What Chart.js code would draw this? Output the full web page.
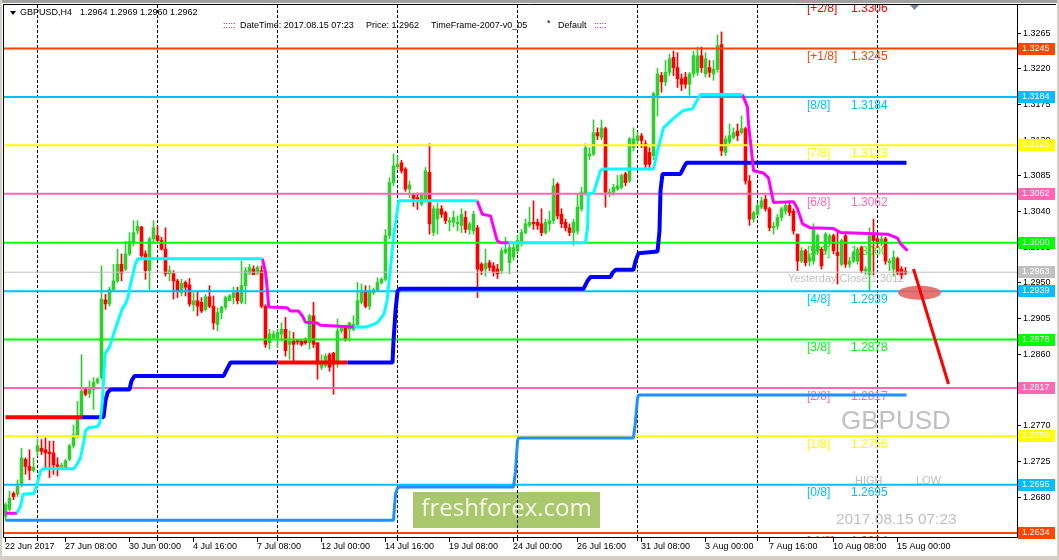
<!DOCTYPE html>
<html>
<head>
<meta charset="utf-8">
<title>GBPUSD,H4</title>
<script src="https://cdn.jsdelivr.net/npm/chart.js@4.4.1/dist/chart.umd.min.js"></script>
<style>
  html, body { margin: 0; padding: 0; background: #fff; overflow: hidden; }
  canvas { display: block; }
</style>
</head>
<body>
<canvas id="chart" width="1059" height="560"></canvas>
<script>
// ---- candles (H4, first bar 22 Jun 2017 20:00, last bar 15 Aug 08:00) ----
const opens = [
  1.2655,1.2664,1.2684,1.2683,1.2695,1.2727,1.2718,1.2713,1.2737,1.2741,
  1.2739,1.2736,1.2735,1.2720,1.2718,1.2716,1.2727,1.2744,1.2756,1.2779,
  1.2815,1.2810,1.2815,1.2824,1.2830,1.2928,1.2923,1.2941,1.2952,1.2973,
  1.2967,1.2986,1.3000,1.3015,1.3020,1.2986,1.2965,1.3005,1.3009,1.3003,
  1.2992,1.2961,1.2961,1.2952,1.2937,1.2950,1.2947,1.2922,1.2927,1.2925,
  1.2916,1.2932,1.2920,1.2897,1.2912,1.2919,1.2927,1.2931,1.2937,1.2925,
  1.2946,1.2962,1.2967,1.2962,1.2965,1.2920,1.2874,1.2880,1.2880,1.2885,
  1.2891,1.2872,1.2876,1.2877,1.2876,1.2878,1.2874,1.2908,1.2874,1.2843,
  1.2845,1.2859,1.2861,1.2849,1.2889,1.2893,1.2891,1.2891,1.2897,1.2925,
  1.2939,1.2920,1.2937,1.2941,1.2950,1.2954,1.3009,1.3076,1.3096,1.3101,
  1.3093,1.3068,1.3060,1.3057,1.3049,1.3053,1.3089,1.3013,1.3030,1.3043,
  1.3038,1.3026,1.3026,1.3024,1.3022,1.3032,1.3017,1.3015,1.3019,1.2973,
  1.2967,1.2975,1.2971,1.2967,1.2965,1.2988,1.2975,1.2982,1.2990,1.3000,
  1.3013,1.3022,1.3026,1.3026,1.3024,1.3013,1.3024,1.3028,1.3074,1.3036,
  1.3026,1.3019,1.3013,1.3015,1.3043,1.3062,1.3110,1.3112,1.3139,1.3133,
  1.3144,1.3062,1.3064,1.3068,1.3070,1.3087,1.3078,1.3120,1.3129,1.3135,
  1.3125,1.3114,1.3110,1.3186,1.3211,1.3203,1.3215,1.3234,1.3221,1.3207,
  1.3209,1.3200,1.3213,1.3215,1.3236,1.3213,1.3221,1.3213,1.3219,1.3250,
  1.3114,1.3127,1.3133,1.3141,1.3139,1.3144,1.3078,1.3030,1.3036,1.3045,
  1.3055,1.3043,1.3019,1.3021,1.3032,1.3040,1.3047,1.3040,1.3011,1.2977,
  1.2990,1.2977,1.2977,1.2990,1.2992,1.2990,1.2999,1.3009,1.2988,1.2973,
  1.3009,1.2973,1.2977,1.2977,1.2994,1.2965,1.2960,1.3011,1.3005,1.2999,
  1.3005,1.2975,1.2967,1.2980,1.2967,1.2964
];
const highs = [
  1.2672,1.2687,1.2686,1.2701,1.2741,1.2729,1.2739,1.2729,1.2752,1.2752,
  1.2754,1.2750,1.2750,1.2729,1.2722,1.2727,1.2746,1.2770,1.2800,1.2859,
  1.2817,1.2826,1.2830,1.2830,1.2971,1.2935,1.2944,1.2973,1.2992,1.2986,
  1.3002,1.3013,1.3028,1.3028,1.3021,1.2990,1.3007,1.3028,1.3021,1.3007,
  1.3019,1.2971,1.2965,1.2954,1.2954,1.2952,1.2955,1.2937,1.2939,1.2931,
  1.2935,1.2946,1.2933,1.2918,1.2920,1.2933,1.2935,1.2944,1.2944,1.2977,
  1.2969,1.2973,1.2971,1.2971,1.2971,1.2922,1.2891,1.2889,1.2891,1.2899,
  1.2906,1.2889,1.2887,1.2878,1.2878,1.2880,1.2910,1.2925,1.2874,1.2859,
  1.2860,1.2861,1.2862,1.2904,1.2895,1.2895,1.2900,1.2908,1.2950,1.2948,
  1.2946,1.2946,1.2943,1.2956,1.2956,1.3017,1.3082,1.3112,1.3110,1.3104,
  1.3095,1.3078,1.3062,1.3063,1.3063,1.3095,1.3125,1.3047,1.3050,1.3047,
  1.3040,1.3032,1.3040,1.3034,1.3043,1.3040,1.3026,1.3040,1.3022,1.2975,
  1.2992,1.2978,1.2975,1.2973,1.2994,1.3007,1.2998,1.3000,1.3009,1.3017,
  1.3030,1.3045,1.3053,1.3030,1.3043,1.3030,1.3040,1.3081,1.3076,1.3043,
  1.3030,1.3024,1.3030,1.3062,1.3070,1.3125,1.3120,1.3155,1.3145,1.3155,
  1.3146,1.3068,1.3074,1.3085,1.3087,1.3089,1.3133,1.3145,1.3140,1.3138,
  1.3129,1.3120,1.3190,1.3220,1.3215,1.3230,1.3238,1.3242,1.3240,1.3213,
  1.3215,1.3215,1.3242,1.3247,1.3247,1.3240,1.3230,1.3230,1.3262,1.3266,
  1.3135,1.3150,1.3145,1.3150,1.3160,1.3146,1.3085,1.3040,1.3050,1.3058,
  1.3060,1.3045,1.3026,1.3036,1.3045,1.3052,1.3053,1.3043,1.3011,1.2994,
  1.2992,1.2986,1.3024,1.3011,1.2994,1.3013,1.3011,1.3011,1.3015,1.3005,
  1.3011,1.2982,1.2990,1.2994,1.2996,1.2970,1.3019,1.3030,1.3007,1.3011,
  1.3007,1.2980,1.2990,1.2982,1.2970,1.2969
];
const lows = [
  1.2650,1.2662,1.2676,1.2680,1.2692,1.2708,1.2701,1.2711,1.2731,1.2733,
  1.2716,1.2704,1.2708,1.2706,1.2715,1.2714,1.2725,1.2741,1.2754,1.2777,
  1.2807,1.2805,1.2790,1.2822,1.2828,1.2916,1.2920,1.2939,1.2950,1.2952,
  1.2965,1.2984,1.2996,1.3011,1.2981,1.2954,1.2941,1.3000,1.3002,1.2991,
  1.2958,1.2952,1.2929,1.2931,1.2933,1.2933,1.2920,1.2914,1.2908,1.2912,
  1.2914,1.2918,1.2891,1.2889,1.2904,1.2916,1.2927,1.2923,1.2923,1.2923,
  1.2923,1.2960,1.2960,1.2960,1.2918,1.2868,1.2866,1.2878,1.2868,1.2876,
  1.2857,1.2853,1.2849,1.2872,1.2870,1.2872,1.2866,1.2868,1.2828,1.2840,
  1.2843,1.2838,1.2809,1.2843,1.2886,1.2876,1.2876,1.2889,1.2895,1.2923,
  1.2918,1.2916,1.2935,1.2939,1.2948,1.2952,1.3005,1.3072,1.3093,1.3088,
  1.3065,1.3057,1.3046,1.3042,1.3047,1.3051,1.3011,1.3009,1.3011,1.3032,
  1.3024,1.3015,1.3020,1.3015,1.3013,1.3013,1.3011,1.3011,1.2931,1.2960,
  1.2958,1.2965,1.2958,1.2955,1.2961,1.2986,1.2961,1.2978,1.2986,1.2996,
  1.3011,1.3020,1.3017,1.3017,1.3009,1.3011,1.3015,1.3024,1.3030,1.3019,
  1.3015,1.3009,1.2997,1.3011,1.3040,1.3060,1.3105,1.3110,1.3130,1.3130,
  1.3045,1.3058,1.3060,1.3066,1.3068,1.3072,1.3076,1.3116,1.3125,1.3120,
  1.3095,1.3095,1.3105,1.3160,1.3190,1.3198,1.3211,1.3211,1.3196,1.3192,
  1.3195,1.3186,1.3209,1.3211,1.3215,1.3209,1.3209,1.3205,1.3215,1.3110,
  1.3110,1.3125,1.3131,1.3129,1.3137,1.3074,1.3022,1.3026,1.3034,1.3043,
  1.3040,1.3015,1.3011,1.3017,1.3028,1.3036,1.3034,1.3011,1.2965,1.2975,
  1.2971,1.2971,1.2973,1.2986,1.2967,1.2986,1.2996,1.2986,1.2948,1.2971,
  1.2969,1.2969,1.2975,1.2973,1.2962,1.2960,1.2939,1.2960,1.2994,1.2996,
  1.2973,1.2965,1.2958,1.2960,1.2955,1.2960
];
const closes = [
  1.2670,1.2678,1.2680,1.2693,1.2729,1.2718,1.2713,1.2717,1.2744,1.2737,
  1.2735,1.2734,1.2720,1.2718,1.2719,1.2725,1.2744,1.2758,1.2779,1.2813,
  1.2809,1.2815,1.2824,1.2828,1.2929,1.2923,1.2941,1.2952,1.2973,1.2962,
  1.2986,1.3002,1.3013,1.3021,1.2984,1.2965,1.3005,1.3019,1.3003,1.2992,
  1.2961,1.2965,1.2952,1.2939,1.2949,1.2944,1.2923,1.2927,1.2920,1.2914,
  1.2932,1.2920,1.2899,1.2912,1.2919,1.2931,1.2933,1.2937,1.2927,1.2946,
  1.2965,1.2969,1.2960,1.2969,1.2920,1.2872,1.2885,1.2885,1.2887,1.2891,
  1.2864,1.2876,1.2872,1.2875,1.2872,1.2874,1.2908,1.2872,1.2847,1.2847,
  1.2857,1.2843,1.2847,1.2889,1.2893,1.2878,1.2899,1.2897,1.2927,1.2939,
  1.2920,1.2939,1.2941,1.2950,1.2954,1.3009,1.3076,1.3097,1.3099,1.3091,
  1.3068,1.3073,1.3056,1.3055,1.3061,1.3091,1.3024,1.3043,1.3043,1.3036,
  1.3028,1.3028,1.3032,1.3026,1.3036,1.3017,1.3024,1.3036,1.2967,1.2965,
  1.2974,1.2969,1.2963,1.2961,1.2990,1.2992,1.2994,1.2994,1.3003,1.3013,
  1.3024,1.3026,1.3024,1.3022,1.3013,1.3026,1.3028,1.3072,1.3034,1.3024,
  1.3019,1.3013,1.3026,1.3045,1.3064,1.3120,1.3112,1.3139,1.3135,1.3145,
  1.3064,1.3064,1.3070,1.3072,1.3085,1.3076,1.3131,1.3131,1.3135,1.3129,
  1.3099,1.3099,1.3188,1.3213,1.3203,1.3215,1.3232,1.3221,1.3207,1.3200,
  1.3200,1.3213,1.3236,1.3236,1.3221,1.3232,1.3215,1.3219,1.3249,1.3116,
  1.3131,1.3135,1.3139,1.3135,1.3144,1.3078,1.3030,1.3038,1.3047,1.3053,
  1.3043,1.3019,1.3021,1.3032,1.3043,1.3047,1.3038,1.3015,1.2977,1.2990,
  1.2975,1.2982,1.3019,1.3009,1.2971,1.3011,1.3009,1.2990,1.2984,1.3003,
  1.2973,1.2977,1.2988,1.2992,1.2965,1.2967,1.3009,1.3003,1.2999,1.3005,
  1.2977,1.2977,1.2982,1.2962,1.2960,1.2962
];

// ---- time axis ----
const timeLabels = ['22 Jun 2017','27 Jun 08:00','30 Jun 00:00','4 Jul 16:00','7 Jul 08:00',
  '12 Jul 00:00','14 Jul 16:00','19 Jul 08:00','24 Jul 00:00','26 Jul 16:00','31 Jul 08:00',
  '3 Aug 00:00','7 Aug 16:00','10 Aug 08:00','15 Aug 00:00'];
const timeLabelBars = [0,15,31,47,63,79,95,111,127,143,159,175,191,207,223];
const gridBars = [8,38,68,98,128,158,188,218];

// ---- price axis ----
const priceTicks = [1.3265,1.3220,1.3175,1.3130,1.3085,1.3040,1.2995,1.2950,1.2905,1.2860,1.2815,1.2770,1.2725,1.2680];

// ---- Murrey Math levels ----
const murreyNames  = ['[+2/8]','[+1/8]','[8/8]','[7/8]','[6/8]','[5/8]','[4/8]','[3/8]','[2/8]','[1/8]','[0/8]','[-1/8]'];
const murreyLevels = [1.3306,1.3245,1.3184,1.3123,1.3062,1.3000,1.2939,1.2878,1.2817,1.2756,1.2695,1.2634];
const bidPrice = 1.2963;
const yesterdayClose = 1.3012;

// ---- indicator lines: [bar, price] vertices ----
const trailUp = [
  [[2.9,1.2659],[3.75,1.2668],[4.4,1.2683],[7.1,1.2684],[7.75,1.2693],[8.75,1.2712],[9.4,1.2715],[17.1,1.2715],
   [17.9,1.2721],[18.75,1.2729],[19.6,1.2750],[20,1.2763],[20.8,1.2767],[22.9,1.2768],[23.6,1.2773],[23.9,1.2784],
   [24.25,1.2801],[24.6,1.2835],[24.9,1.2860],[26.1,1.2870],[26.7,1.2880],[27.5,1.2892],[28.3,1.2904],[29.2,1.2917],
   [30,1.2923],[30.6,1.2931],[31.25,1.2948],[31.9,1.2961],[32.5,1.2974],[33.1,1.2980],[64.2,1.2980]],
  [[87.1,1.2894],[90.4,1.2894],[92.9,1.2899],[94.6,1.2910],[95.4,1.2927],[96.25,1.2969],[97.1,1.3011],[98.3,1.3053],[117.9,1.3053]],
  [[125.8,1.3000],[145,1.3000],[145.5,1.3019],[145.75,1.3062],[147,1.3063],[148.75,1.3091],[149.25,1.3093],[162,1.3093],
   [163,1.3116],[164.5,1.3145],[167,1.3157],[169.5,1.3167],[171.75,1.3169],[173.25,1.3183],[173.75,1.3187],[184.25,1.3187]]
];
const trailDown = [
  [[0,1.2659],[2.9,1.2659]],
  [[64.2,1.2980],[65,1.2963],[65.4,1.2944],[65.8,1.2919],[70.4,1.2918],[71.25,1.2914],[73.3,1.2914],[74.2,1.2908],
   [75,1.2900],[77.9,1.2899],[78.75,1.2896],[87.1,1.2894]],
  [[117.9,1.3053],[119.2,1.3036],[121.25,1.3034],[122.9,1.3003],[123.75,1.3000],[125.8,1.3000]],
  [[184.25,1.3187],[185.5,1.3171],[185.75,1.3150],[186.75,1.3104],[187,1.3091],[189.5,1.3088],[190.75,1.3082],
   [191.75,1.3057],[192,1.3051],[197,1.3052],[198,1.3043],[199.25,1.3024],[201.25,1.3019],[207,1.3018],
   [208.75,1.3013],[220.5,1.3011],[223,1.3006],[223.75,1.2999],[225.5,1.2990]]
];
const supportBlue = [
  [[19.25,1.2780],[24.5,1.2780],[25,1.2801],[25.5,1.2811],[26.25,1.2815],[31,1.2815],[31.5,1.2826],[32.25,1.2832],
   [54.5,1.2832],[55.5,1.2842],[56.25,1.2849],[68,1.2849]],
  [[85.5,1.2849],[96.75,1.2849],[97,1.2876],[97.5,1.2914],[98,1.2939],[98.5,1.2942],[144.5,1.2942],[145.5,1.2952],
   [146.25,1.2957],[151.25,1.2957],[151.75,1.2962],[152.5,1.2966],[157,1.2966],[157.5,1.2977],[158.25,1.2987],
   [163,1.2989],[163.5,1.3015],[163.75,1.3066],[164.25,1.3087],[168.75,1.3087],[169.75,1.3097],[170.25,1.3101],[225.25,1.3101]]
];
const supportRed = [
  [[0,1.2780],[19.25,1.2780]],
  [[68,1.2849],[85.5,1.2849]]
];
const supportLight = [
  [[0,1.2650],[97,1.2650],[97.25,1.2668],[97.5,1.2683],[98,1.2691],[98.5,1.2692],[127,1.2692],[127.5,1.2712],
   [128,1.2750],[128.25,1.2754],[157,1.2754],[157.5,1.2775],[158,1.2804],[158.25,1.2808],[225.25,1.2808]]
];

// ---- drawn objects (bar, price) ----
const targetZone = [228.5, 1.2937];
const arrowFrom = [227, 1.2967];
const arrowTo = [235.75, 1.2822];

// ---- styles ----
const F = '"Liberation Sans", Arial, sans-serif';
const UP = '#32cd32', DOWN = '#ff0000';
const murreyColors = ['#ff0000','#ff4500','#00bfff','#ffff00','#ff69b4','#00ff00','#00bfff','#00ff00','#ff69b4','#ffff00','#00bfff','#ff4500'];
const X_MIN = -0.375, X_MAX = 252.875;
const Y_MIN = 1.2629, Y_MAX = 1.3300;

const candleColor = opens.map((o, i) => closes[i] >= o ? UP : DOWN);

function pathSet(segments, color, width, order) {
  const data = [];
  segments.forEach((seg, k) => {
    if (k) data.push({ x: seg[0][0], y: null });
    seg.forEach(p => data.push({ x: p[0], y: p[1] }));
  });
  return { type: 'line', data, borderColor: color, borderWidth: width, pointRadius: 0,
    tension: 0, fill: false, spanGaps: false, borderJoinStyle: 'bevel', order };
}

const datasets = [
  { type: 'bar', data: opens.map((_, i) => ({ x: i, y: [lows[i], highs[i]] })),
    backgroundColor: candleColor, barThickness: 1, grouped: false, minBarLength: 1, order: 11 },
  { type: 'bar', data: opens.map((o, i) => ({ x: i, y: [o, closes[i]] })),
    backgroundColor: candleColor, barThickness: 3, grouped: false, minBarLength: 1, order: 10 }
];
murreyLevels.forEach((lv, k) => {
  datasets.push(pathSet([[[X_MIN, lv], [X_MAX, lv]]], murreyColors[k], 2, 5));
});
datasets.push(pathSet([[[X_MIN, bidPrice], [X_MAX, bidPrice]]], '#c0c0c0', 1, 6));
datasets.push(pathSet(supportLight, '#1e90ff', 3, 2));
datasets.push(pathSet(supportBlue, '#0000ff', 4, 2));
datasets.push(pathSet(supportRed, '#ff0000', 4, 2));
datasets.push(pathSet(trailUp, '#00ffff', 3, 1));
datasets.push(pathSet(trailDown, '#ff00ff', 3, 1));

function clipArea(c, a) {
  c.beginPath();
  c.rect(a.left, a.top, a.right - a.left, a.bottom - a.top);
  c.clip();
}

const mt4Plugin = {
  id: 'mt4',
  beforeDraw(chart) {
    const c = chart.ctx;
    c.save();
    c.fillStyle = '#ffffff';
    c.fillRect(0, 0, chart.width, chart.height);
    c.fillStyle = '#a0a0a0';
    c.fillRect(0, 0, chart.width, 3);
    c.fillStyle = '#d4d0c8';
    c.fillRect(0, 556, chart.width, 4);
    c.fillRect(0, 0, 2, chart.height);
    c.fillRect(1057, 0, 2, chart.height);
    c.restore();
  },
  beforeDatasetsDraw(chart) {
    const { ctx: c, chartArea: a } = chart;
    const xs = chart.scales.x, ys = chart.scales.y;
    c.save();
    clipArea(c, a);
    // watermark
    c.fillStyle = '#a9c76d';
    c.fillRect(413, 492, 187, 36);
    c.fillStyle = '#f5f9ea';
    c.font = '24px "Open Sans", sans-serif';
    c.textAlign = 'center';
    c.textBaseline = 'middle';
    c.fillText('freshforex.com', 506.5, 509);
    // vertical grid
    c.strokeStyle = '#000';
    c.lineWidth = 1;
    c.setLineDash([3, 2]);
    gridBars.forEach(b => {
      const px = xs.getPixelForValue(b);
      c.beginPath();
      c.moveTo(px, a.top);
      c.lineTo(px, a.bottom);
      c.stroke();
    });
    c.setLineDash([]);
    // info texts
    c.textAlign = 'left';
    c.fillStyle = '#c0c0c0';
    c.font = '11px ' + F;
    c.fillText('Yesterday Close ' + yesterdayClose.toFixed(4), 788, 279);
    c.font = '26px ' + F;
    c.fillText('GBPUSD', 841, 422);
    c.font = '11px ' + F;
    c.fillText('HIGH', 855, 481);
    c.fillText('LOW', 916, 481);
    c.font = '15.5px ' + F;
    c.fillText('2017.08.15 07:23', 836, 520);
    // level labels
    c.font = '12px ' + F;
    murreyLevels.forEach((lv, k) => {
      const py = ys.getPixelForValue(lv) + 8.5;
      c.fillStyle = murreyColors[k];
      c.fillText(murreyNames[k], 807, py);
      c.fillText(lv.toFixed(4), 851, py);
    });
    c.restore();
  },
  afterDatasetsDraw(chart) {
    const { ctx: c, chartArea: a } = chart;
    const xs = chart.scales.x, ys = chart.scales.y;
    c.save();
    clipArea(c, a);
    // target ellipse and arrow
    c.fillStyle = 'rgba(228,100,100,0.9)';
    c.beginPath();
    c.ellipse(xs.getPixelForValue(targetZone[0]), ys.getPixelForValue(targetZone[1]), 21.5, 7, 0, 0, Math.PI * 2);
    c.fill();
    c.strokeStyle = '#ff0000';
    c.lineWidth = 3;
    c.beginPath();
    c.moveTo(xs.getPixelForValue(arrowFrom[0]), ys.getPixelForValue(arrowFrom[1]));
    c.lineTo(xs.getPixelForValue(arrowTo[0]), ys.getPixelForValue(arrowTo[1]));
    c.stroke();
    // header
    c.fillStyle = '#000';
    c.beginPath();
    c.moveTo(10, 11); c.lineTo(16, 11); c.lineTo(13, 15); c.closePath();
    c.fill();
    c.font = '9px ' + F;
    c.textAlign = 'left';
    c.textBaseline = 'middle';
    const last = opens.length - 1;
    c.fillText('GBPUSD,H4', 20, 13);
    c.fillText([opens[last], highs[last], lows[last], closes[last]].map(v => v.toFixed(4)).join(' '), 80, 13);
    c.fillStyle = '#800080';
    c.fillText(':::::', 223, 26);
    c.fillText(':::::', 594, 26);
    c.fillStyle = '#000';
    c.fillText('DateTime: 2017.08.15 07:23', 240, 26);
    c.fillText('Price: ' + closes[last].toFixed(4), 366, 26);
    c.fillText('TimeFrame-2007-v0_05', 431, 26);
    c.fillText('*', 547, 24);
    c.fillText('Default', 558, 26);
    // shift marker
    c.fillStyle = '#778899';
    c.beginPath();
    c.moveTo(910, 5); c.lineTo(919, 5); c.lineTo(914.5, 10); c.closePath();
    c.fill();
    c.restore();

    // frame and axes
    c.save();
    c.strokeStyle = '#000';
    c.lineWidth = 1;
    c.beginPath();
    c.moveTo(3, 4.5); c.lineTo(1056, 4.5);
    c.moveTo(3.5, 4.5); c.lineTo(3.5, 537.5);
    c.moveTo(3.5, 537.5); c.lineTo(1017.5, 537.5);
    c.moveTo(1017.5, 4.5); c.lineTo(1017.5, 537.5);
    c.stroke();

    c.font = '9px ' + F;
    c.textBaseline = 'middle';
    c.textAlign = 'left';
    c.fillStyle = '#000';
    priceTicks.forEach(v => {
      const py = Math.round(ys.getPixelForValue(v)) + 0.5;
      c.beginPath();
      c.moveTo(1018, py); c.lineTo(1021, py);
      c.stroke();
      c.fillText(v.toFixed(4), 1023, py);
    });
    const marks = murreyLevels.map((v, k) => [v, murreyColors[k]]);
    marks.push([bidPrice, '#c0c0c0']);
    marks.forEach(([v, col]) => {
      const py = ys.getPixelForValue(v);
      if (py < a.top || py > a.bottom) return;
      c.fillStyle = col;
      c.fillRect(1018, Math.round(py) - 6, 37, 12);
      c.fillStyle = '#ffffff';
      c.fillText(v.toFixed(4), 1022, Math.round(py));
    });

    c.fillStyle = '#000';
    gridBars.forEach(b => {
      const px = Math.floor(xs.getPixelForValue(b)) + 0.5;
      c.beginPath(); c.moveTo(px, 538); c.lineTo(px, 541); c.stroke();
    });
    timeLabelBars.forEach((b, k) => {
      const px = Math.floor(xs.getPixelForValue(b)) + 0.5;
      c.beginPath(); c.moveTo(px, 538); c.lineTo(px, 542); c.stroke();
      c.fillText(timeLabels[k], px - 0.5, 547);
    });
    c.restore();
  }
};

new Chart(document.getElementById('chart'), {
  type: 'bar',
  data: { datasets },
  options: {
    responsive: false,
    animation: false,
    events: [],
    layout: { padding: { left: 4, right: 42, top: 5, bottom: 23 } },
    plugins: { legend: { display: false }, tooltip: { enabled: false } },
    scales: {
      x: { type: 'linear', min: X_MIN, max: X_MAX, display: false, offset: false, grid: { display: false } },
      y: { type: 'linear', min: Y_MIN, max: Y_MAX, display: false, beginAtZero: false }
    }
  },
  plugins: [mt4Plugin]
});
</script>
</body>
</html>
